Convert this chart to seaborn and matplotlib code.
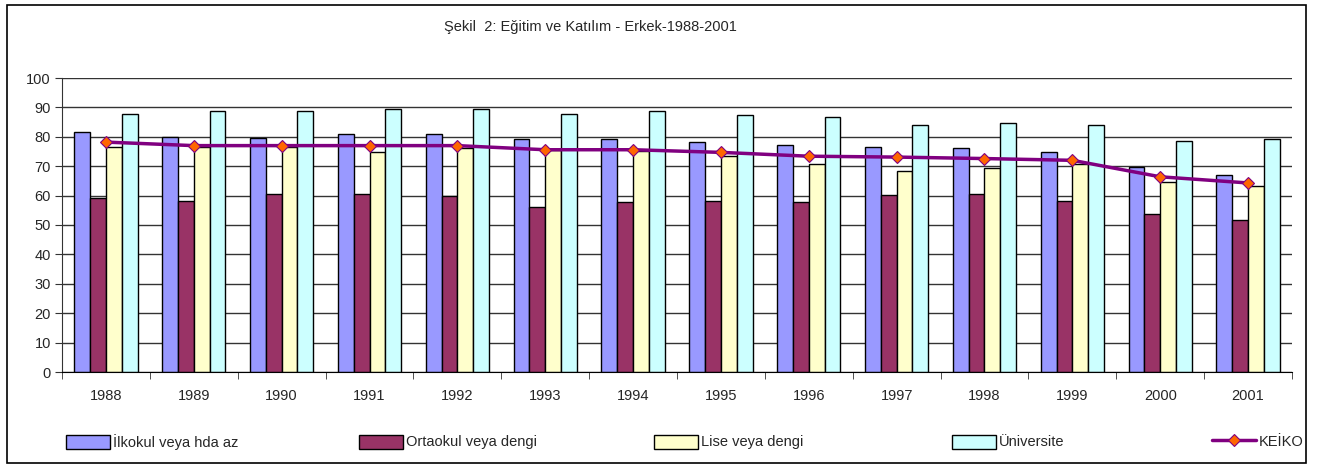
import numpy as np
import pandas as pd
import seaborn as sns
import matplotlib.pyplot as plt
from matplotlib.patches import Rectangle
from matplotlib.ticker import FixedLocator

sns.set_style("white")
plt.rcParams['font.family'] = ['Liberation Sans', 'DejaVu Sans']

years = ['1988', '1989', '1990', '1991', '1992', '1993', '1994',
         '1995', '1996', '1997', '1998', '1999', '2000', '2001']
ilkokul = [81.8, 80.0, 79.5, 80.9, 80.9, 79.1, 79.1, 78.1, 77.2, 76.6, 76.3, 75.0, 69.8, 66.9]
ortaokul = [59.1, 58.2, 60.6, 60.6, 60.0, 56.0, 57.7, 58.2, 57.7, 60.1, 60.6, 58.2, 53.7, 51.8]
lise = [76.7, 76.4, 76.4, 75.0, 76.3, 75.4, 75.2, 73.4, 70.8, 68.4, 69.3, 70.8, 64.7, 63.2]
universite = [87.9, 88.9, 88.9, 89.4, 89.4, 87.9, 88.9, 87.4, 86.9, 84.1, 84.8, 84.1, 78.7, 79.1]
keiko = [78.2, 77.0, 77.0, 77.0, 77.0, 75.6, 75.6, 74.7, 73.4, 73.1, 72.6, 72.0, 66.4, 64.3]

series = ['İlkokul veya hda az', 'Ortaokul veya dengi', 'Lise veya dengi', 'Üniversite']
colors = ['#9999FF', '#993366', '#FFFFCC', '#CCFFFF']

df = pd.DataFrame({'Yıl': years, series[0]: ilkokul, series[1]: ortaokul,
                   series[2]: lise, series[3]: universite})
long_df = df.melt(id_vars='Yıl', var_name='Eğitim', value_name='Oran')

fig = plt.figure(figsize=(13.33, 4.66), dpi=100)
ax = fig.add_axes([62 / 1333, 1 - 372 / 466, 1230 / 1333, 294 / 466])

sns.barplot(data=long_df, x='Yıl', y='Oran', hue='Eğitim', palette=colors,
            saturation=1, width=0.72, gap=0, edgecolor='black', linewidth=1,
            ax=ax, zorder=2)
handles, labels = ax.get_legend_handles_labels()
ax.get_legend().remove()

line, = ax.plot(np.arange(len(years)), keiko, color='#800080', lw=2.5,
                marker='D', markersize=6, markerfacecolor='#FF6600',
                markeredgecolor='#800080', markeredgewidth=0.8, zorder=3)
handles.append(line)
labels.append('KEİKO')

ax.set_ylim(0, 100)
ax.set_xlim(-0.5, len(years) - 0.5)
ax.set_yticks(range(0, 101, 10))
ax.yaxis.grid(True, color='#333333', lw=1, zorder=0)
ax.set_axisbelow(True)
ax.set_xlabel('')
ax.set_ylabel('')
for s in ['top', 'right']:
    ax.spines[s].set_visible(False)
ax.spines['left'].set_color('#333333')
ax.spines['bottom'].set_color('black')
ax.xaxis.set_minor_locator(FixedLocator(np.arange(-0.5, len(years), 1)))
ax.tick_params(axis='x', which='major', length=0, pad=12, labelsize=10.5)
ax.tick_params(axis='x', which='minor', length=5, direction='out', color='#333333', bottom=True)
ax.tick_params(axis='y', length=5, direction='out', color='#333333', left=True, labelsize=10.5, pad=3)

fig.text(590 / 1333, 1 - 27 / 466, 'Şekil  2: Eğitim ve Katılım - Erkek-1988-2001',
         ha='center', va='center', fontsize=10.5)

# legend entries spread along the bottom, one small legend each
legend_x = [66, 359, 654, 952, 1212]
for h, lab, lx in zip(handles, labels, legend_x):
    leg = fig.legend([h], [lab], loc='center left', frameon=False,
                     bbox_to_anchor=(lx / 1333, 1 - 442 / 466),
                     handlelength=3.0, handleheight=1.1, handletextpad=0.2,
                     borderpad=0, borderaxespad=0, fontsize=10.5)

fig.add_artist(Rectangle((7 / 1333, 3 / 466), 1299 / 1333, 458 / 466,
                         transform=fig.transFigure, fill=False,
                         edgecolor='black', lw=1.2))

fig.savefig('out.png', dpi=100)
